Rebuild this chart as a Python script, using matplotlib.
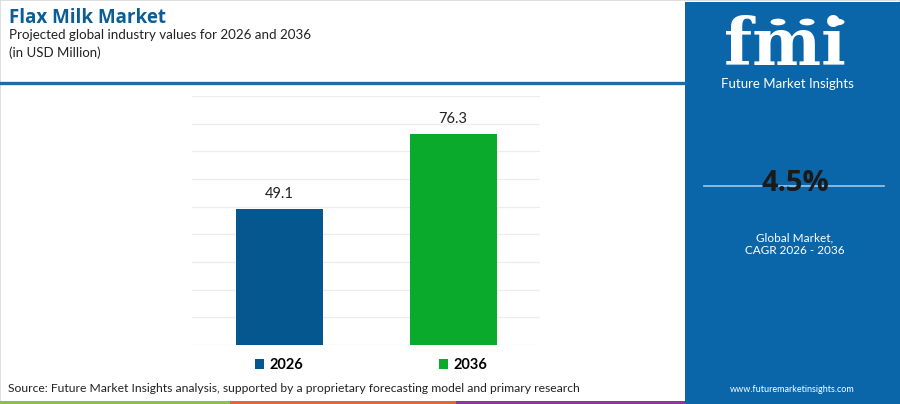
import matplotlib.pyplot as plt
from matplotlib.patches import Rectangle, Circle
from matplotlib.lines import Line2D

# data
years = ["2026", "2036"]
values = [49.1, 76.3]
bar_colors = ["#05588F", "#0AAA2D"]
cagr = "4.5%"

W, H = 900, 404
fig = plt.figure(figsize=(9, 4.04), dpi=100)
plt.rcParams["font.family"] = ["Lato", "DejaVu Sans"]


def px(x, y):
    return x / W, 1 - y / H


# frame around the white area
fig.add_artist(Rectangle((0, 0), 1, 1, transform=fig.transFigure, fill=False,
                         ec="#D8D8D8", lw=1.2))

# header
fig.text(*px(9, 18), "Flax Milk Market", fontsize=13.5, fontweight="bold",
         family=["Open Sans", "DejaVu Sans"], color="#0B5D95",
         va="center", ha="left")
fig.text(*px(9, 35), "Projected global industry values for 2026 and 2036",
         fontsize=9.6, color="#222222", va="center", ha="left")
fig.text(*px(9, 53), "(in USD Million)", fontsize=9.5, color="#222222",
         va="center", ha="left")
x0, y0 = px(0, 83)
fig.add_artist(Line2D([0, 685 / W], [y0, y0], transform=fig.transFigure,
                      color="#1F6BA5", lw=2.4))

# chart
ax = fig.add_axes([192 / W, 59 / H, 348 / W, 249 / H])
bars = ax.bar(range(len(years)), values, width=0.5, color=bar_colors,
              label=years, zorder=3)
for i, v in enumerate(values):
    ax.text(i, v + 3, f"{v}", ha="center", va="bottom", fontsize=10.5,
            color="#222222")
ax.set_xlim(-0.5, 1.5)
ax.set_ylim(0, 90)
ax.set_yticks(range(0, 91, 10))
ax.grid(axis="y", color="#EDEDED", lw=0.9, zorder=0)
ax.set_xticks([])
ax.tick_params(left=False, labelleft=False)
for s in ax.spines.values():
    s.set_visible(False)

leg = ax.legend(handles=list(bars), labels=years, loc="upper center",
                bbox_to_anchor=(0.515, 0.0), ncol=2, frameon=False,
                handlelength=0.65, handleheight=0.65, handletextpad=0.35,
                columnspacing=9.3, prop={"weight": "bold", "size": 10.5})

# source + bottom strip
fig.text(*px(8, 388), "Source: Future Market Insights analysis, supported by a "
         "proprietary forecasting model and primary research",
         fontsize=8.75, color="#222222", va="center", ha="left")
for xa, xb, c in [(0, 230, "#8DC04A"), (230, 456, "#E0673A"), (456, 685, "#8A3B97")]:
    fig.add_artist(Rectangle((xa / W, 0), (xb - xa) / W, 3.5 / H,
                             transform=fig.transFigure, color=c, lw=0))

# right panel
fig.add_artist(Rectangle((685 / W, 0), 215 / W, 1 - 2 / H,
                         transform=fig.transFigure, color="#0A66A8", lw=0))
fig.text(*px(785, 65), "fmi", fontsize=47, fontweight="bold",
         family="DejaVu Serif", color="white", ha="center", va="baseline")
for cx in [778, 807, 837]:
    fig.add_artist(Circle(px(cx, 22), 7.5 / W, transform=fig.transFigure,
                          color="white", lw=0))
fig.text(*px(787, 84), "Future Market Insights", fontsize=9.5,
         color="white", ha="center", va="center")
yl = px(0, 186)[1]
fig.add_artist(Line2D([704 / W, 884 / W], [yl, yl], transform=fig.transFigure,
                      color="#9EC7E6", lw=1.2))
fig.text(*px(795, 184), cagr, fontsize=21, fontweight="bold",
         family=["Open Sans", "DejaVu Sans"], color="#1A1A1A",
         ha="center", va="center")
fig.text(*px(795, 238), "Global Market,", fontsize=8.5, color="white",
         ha="center", va="center")
fig.text(*px(795, 250), "CAGR 2026 - 2036", fontsize=8.5, color="white",
         ha="center", va="center")
fig.text(*px(792, 389), "www.futuremarketinsights.com", fontsize=6.5,
         color="white", ha="center", va="center")

fig.savefig("out.png", dpi=100)
